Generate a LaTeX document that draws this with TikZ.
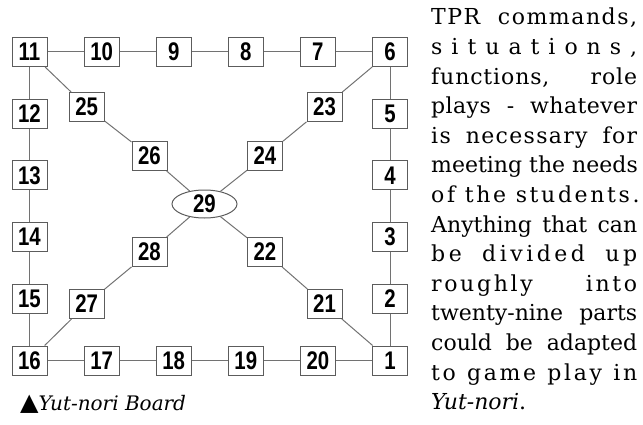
\documentclass[tikz,border=0pt]{standalone}
\usepackage{fontspec}
\setmainfont{DejaVu Serif}
\newfontfamily\ybnum[FakeStretch=0.8]{Liberation Sans}
\newfontfamily\ybsym{DejaVu Sans}
\usepackage{tikz}
\usetikzlibrary{positioning,shapes.geometric}
\definecolor{ybbox}{HTML}{5C5C5C}
\definecolor{ybline}{HTML}{727272}
% one justified line of the side text, optional tracking
\newcommand{\ybjust}[2][0]{\leavevmode\hbox to 206pt{\addfontfeature{LetterSpace=#1}%
  \spaceskip=\fontdimen2\font plus 1fil\relax #2}}
\tikzset{
  ybsquare/.style={draw=ybbox,line width=1pt,fill=white,minimum width=35pt,
    minimum height=29pt,inner sep=0pt,font=\ybnum\bfseries\fontsize{25.5}{25.5}\selectfont},
  ybcentre/.style={ybsquare,ellipse,minimum width=65pt,minimum height=28pt},
  ybpath/.style={draw=ybline,line width=1pt},
  ybprose/.style={anchor=base west,inner sep=0pt,text width=206pt,align=left,
    font=\fontsize{22}{29.6}\selectfont},
  ybcaption/.style={anchor=base west,inner sep=0pt,font=\itshape\fontsize{20}{24}\selectfont}
}

\begin{document}
\begin{tikzpicture}[x=1pt,y=1pt,node distance=31.7pt and 36.1pt]
    \useasboundingbox (0,0) rectangle (643,424);
    % outer ring
    \node[ybsquare] (n11) at (29.5,372) {11};
    \node[ybsquare,right=of n11] (n10) {10};
    \node[ybsquare,right=of n10] (n9) {9};
    \node[ybsquare,right=of n9] (n8) {8};
    \node[ybsquare,right=of n8] (n7) {7};
    \node[ybsquare,right=of n7] (n6) {6};
    \node[ybsquare,below=of n6] (n5) {5};
    \node[ybsquare,below=of n5] (n4) {4};
    \node[ybsquare,below=of n4] (n3) {3};
    \node[ybsquare,below=of n3] (n2) {2};
    \node[ybsquare,below=of n2] (n1) {1};
    \node[ybsquare,below=of n11] (n12) {12};
    \node[ybsquare,below=of n12] (n13) {13};
    \node[ybsquare,below=of n13] (n14) {14};
    \node[ybsquare,below=of n14] (n15) {15};
    \node[ybsquare,below=of n15] (n16) {16};
    \node[ybsquare,right=of n16] (n17) {17};
    \node[ybsquare,right=of n17] (n18) {18};
    \node[ybsquare,right=of n18] (n19) {19};
    \node[ybsquare,right=of n19] (n20) {20};
    % cross
    \node[ybsquare] (n25) at (86.7,317) {25};
    \node[ybsquare] (n26) at (149.5,268) {26};
    \node[ybcentre] (n29) at (204.5,220) {29};
    \node[ybsquare] (n22) at (265,172) {22};
    \node[ybsquare] (n21) at (324.5,120) {21};
    \node[ybsquare] (n23) at (324.5,317) {23};
    \node[ybsquare] (n24) at (265,268) {24};
    \node[ybsquare] (n28) at (149.5,172) {28};
    \node[ybsquare] (n27) at (86.7,120) {27};
    \draw[ybpath] (n11)--(n10)--(n9)--(n8)--(n7)--(n6)--(n5)--(n4)--(n3)--(n2)--(n1)
      --(n20)--(n19)--(n18)--(n17)--(n16)--(n15)--(n14)--(n13)--(n12)--(n11);
    \draw[ybpath] (n11)--(n25)--(n26)--(n29)--(n22)--(n21)--(n1);
    \draw[ybpath] (n6)--(n23)--(n24)--(n29)--(n28)--(n27)--(n16);
    % text
    \node[ybprose] (prose) at (431,399) {\ybjust[7]{TPR commands,}\\
      \ybjust{s i t u a t i o n s ,}\\
      \ybjust[4]{functions, role}\\
      \ybjust[2]{plays - whatever}\\
      \ybjust[6]{is necessary for}\\
      \ybjust{meeting the needs}\\
      \ybjust[12]{of the students.}\\
      \ybjust{Anything that can}\\
      \ybjust[16]{be divided up}\\
      \ybjust[12]{roughly into}\\
      \ybjust{twenty-nine parts}\\
      \ybjust{could be adapted}\\
      \ybjust[12]{to game play in}\\
      \textit{Yut-nori}.};
    \node[ybcaption] (caption) at (20,14) {{\upshape\ybsym\fontsize{24}{24}\selectfont ▲}Yut-nori Board};
  \end{tikzpicture}
\end{document}
